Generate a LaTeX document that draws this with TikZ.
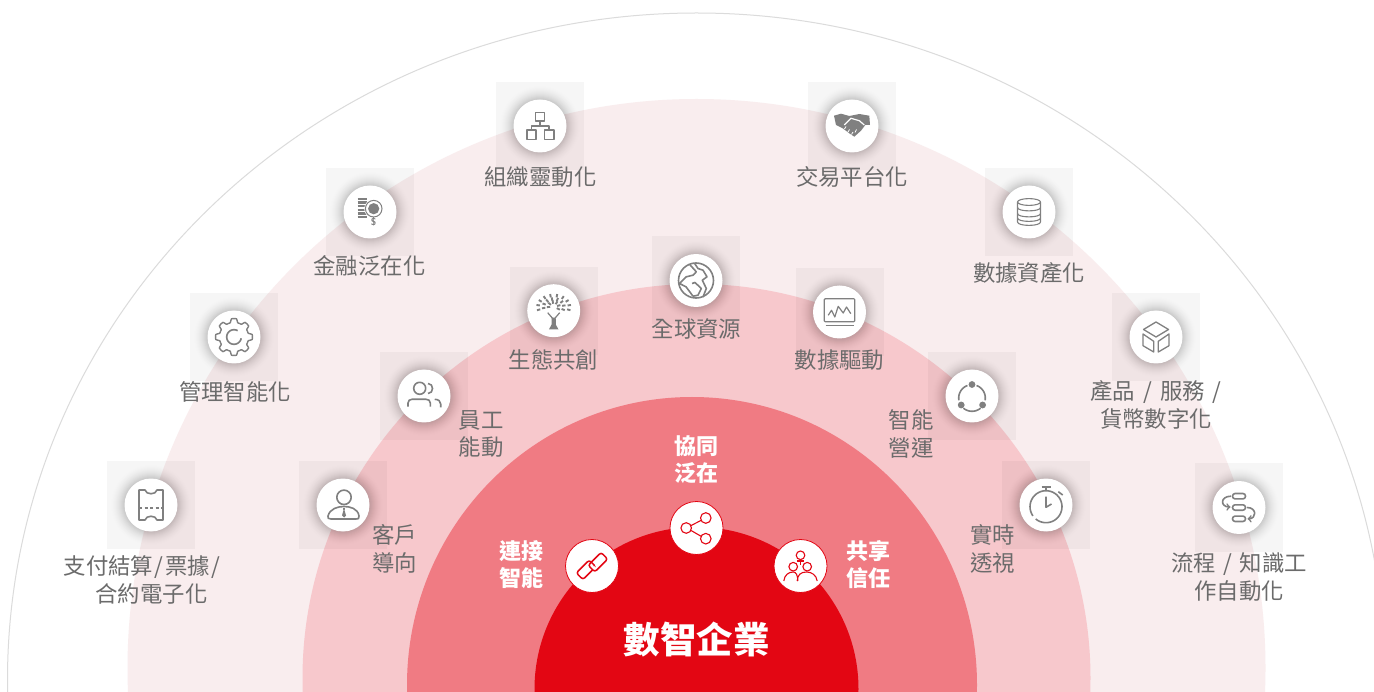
\documentclass[tikz,border=0pt]{standalone}
\usepackage{fontspec}
\newfontfamily\cjk{Noto Sans CJK TC}
\definecolor{ringa}{HTML}{F9EDEE}
\definecolor{ringb}{HTML}{F7C8CC}
\definecolor{ringc}{HTML}{F07B83}
\definecolor{ringd}{HTML}{E30613}
\definecolor{icongray}{HTML}{808080}
\definecolor{textgray}{HTML}{6B6B6B}
\tikzset{
  disc/.style={circle,fill=white,minimum size=53pt,inner sep=0pt},
  reddisc/.style={disc,draw=ringd,line width=.8pt},
  lbl/.style={text=textgray,align=center,inner sep=0pt,yshift=-.6pt,font=\cjk\fontsize{22.4}{27.5}\selectfont},
  wlbl/.style={text=white,align=center,inner sep=0pt,font=\cjk\bfseries\fontsize{22}{27.5}\selectfont},
  ic/.style={draw=icongray,line width=1.6pt,line join=round},
  icf/.style={fill=icongray},
  ricon/.style={draw=ringd,line width=1.1pt},
}
\begin{document}
\begin{tikzpicture}[x=1pt,y=-1pt]
        \useasboundingbox (0,0) rectangle (1374,692);
        \clip (0,0) rectangle (1374,692);
        \fill[white] (0,0) rectangle (1374,692);
        \draw[black!14,line width=1pt] (696.5,680) ellipse [x radius=689,y radius=667];
        \fill[ringa] (696.5,668) circle (569);
        \fill[ringb] (696.5,678) circle (394);
        \fill[ringc] (692,685) ellipse [x radius=285,y radius=288];
        \fill[ringd] (696.5,689) circle (162);
        \foreach \name/\x/\y in {org/540/126,deal/852/126,coin/370/212,db/1029/212,gear/234/337,box/1156/337,
            globe/696/280.5,tree/553.7/310.7,chart/839.5/312,staff/424/396,cycle/972/396,
            client/343/505,watch/1046/505,flow/1239/507.5,ticket/151/505} {
          \fill[black,opacity=.035] (\x-44,\y-44) rectangle (\x+44,\y+44);
          \foreach \r in {27,28,...,41} {
            \pgfmathsetmacro\o{.0015*(42-\r)}
            \fill[black,opacity=\o] (\x,\y) circle (\r);
          }
          \node[disc] (\name) at (\x,\y) {};
        }
        \node[reddisc] (link) at (592,566) {};
        \node[reddisc] (share) at (696.5,528) {};
        \node[reddisc] (trust) at (800.5,566) {};
        \node[lbl] (lblorg) at (540.5,176) {組織靈動化};
        \node[lbl] (lbldeal) at (852,176) {交易平台化};
        \node[lbl] (lblcoin) at (369.5,265) {金融泛在化};
        \node[lbl] (lbldb) at (1029,272) {數據資產化};
        \node[lbl] (lblgear) at (235,391) {管理智能化};
        \node[lbl] (lblglobe) at (696.5,328) {全球資源};
        \node[lbl] (lbltree) at (553.5,359) {生態共創};
        \node[lbl] (lblchart) at (839.5,359) {數據驅動};
        \node[lbl] (lblstaff) at (481,433.5) {員工\\能動};
        \node[lbl] (lblcycle) at (911,433.5) {智能\\營運};
        \node[lbl] (lblclient) at (394.5,548.5) {客戶\\導向};
        \node[lbl] (lblwatch) at (992.5,548.5) {實時\\透視};
        \node[lbl] (lblbox) at (1156,404.5) {產品\hspace{8pt}/\hspace{8pt}服務\hspace{8pt}/\\貨幣數字化};
        \node[lbl] (lblflow) at (1239,576.5) {流程\hspace{7.5pt}/\hspace{7.5pt}知識工\\作自動化};
        \node[lbl] (lblticket) at (142,579.5) {支付結算\hspace{1.5pt}/\hspace{1.5pt}票據\hspace{1.5pt}/\\\hspace*{19pt}合約電子化};
        \node[wlbl] (lbllink) at (521.5,564.5) {連接\\智能};
        \node[wlbl] (lblshare) at (696.5,459.5) {協同\\泛在};
        \node[wlbl] (lbltrust) at (868,564.5) {共享\\信任};
        \node[text=white,inner sep=0pt,font=\cjk\bfseries\fontsize{36.5}{40}\selectfont] (core) at (696.5,640) {數智企業};
        \begin{scope}[shift={(org.center)}]
          \draw[ic] (-4.5,-13.3) rectangle (4.5,-4.7);
          \draw[ic] (-13.3,4.3) rectangle (-4,13.7);
          \draw[ic] (4.3,4.3) rectangle (13.7,13.7);
          \draw[ic] (0,-4.7) -- (0,0);
          \draw[ic] (-8.7,4.3) -- (-8.7,0) -- (9,0) -- (9,4.3);
        \end{scope}
        \begin{scope}[shift={(deal.center)}]
          \fill[icf] (-18,-10.3) -- (-11,-12.3) -- (-2.7,-10) -- (2.3,-11) -- (7.3,-12) -- (17.3,-10.3) -- (18,-1) -- (13.3,-1)
            -- (9,4.7) -- (2.3,10.7) -- (-2.7,7.3) -- (-9.3,2.3) -- (-16,-1) -- cycle;
          \draw[white,line width=1.2pt] (-7.7,-1) -- (-1,-7.7) -- (7.3,-5.3) -- (12.3,-1);
          \draw[white,line width=.8pt] (-6,0.5) -- (-7.5,3);
          \draw[white,line width=.8pt] (-2.5,3.5) -- (-4,6);
          \draw[white,line width=.8pt] (1,6) -- (-.5,8.5);
          \draw[white,line width=.8pt] (4.5,3.5) -- (3,6.5);
        \end{scope}
        \begin{scope}[shift={(coin.center)}]
          \foreach \y in {-13,-9.4,-5.8,-2.2,1.4,5} \draw[icongray,line width=2.4pt] (-12.3,\y) -- (-3,\y);
          \fill[white] (3.7,-3.3) circle (9.5);
          \draw[icongray,line width=1pt] (3.7,-3.3) circle (8.3);
          \fill[icf] (3.7,-3.3) circle (5.6);
          \draw[icongray,line width=1pt] (3.7,5) -- (3.7,6.5);
          \node[text=icongray,inner sep=0pt,font=\sffamily\bfseries\fontsize{10}{10}\selectfont] (dollar) at (3.7,10.3) {\$};
        \end{scope}
        \begin{scope}[shift={(db.center)}]
          \draw[ic,line width=1.1pt] (0,-10) ellipse [x radius=11.5,y radius=3.4];
          \draw[ic,line width=1.1pt] (-11.5,-10) -- (-11.5,10) .. controls (-11.5,14.5) and (11.5,14.5) .. (11.5,10) -- (11.5,-10);
          \draw[ic,line width=1.1pt] (-11.5,-4.5) .. controls (-11.5,0) and (11.5,0) .. (11.5,-4.5);
          \draw[ic,line width=1.1pt] (-11.5,1.5) .. controls (-11.5,6) and (11.5,6) .. (11.5,1.5);
          \draw[ic,line width=1.1pt] (-11.5,6) .. controls (-11.5,10.5) and (11.5,10.5) .. (11.5,6);
        \end{scope}
        \begin{scope}[shift={(gear.center)}]
          \draw[ic,line width=1.4pt] plot[smooth cycle,domain=0:358.5,samples=240] (\x:{16.5+1.9*max(-1,min(1,2.2*cos(8*\x)))});
          \draw[ic] plot[smooth,domain=10:300,samples=30] (\x:7.3);
        \end{scope}
        \begin{scope}[shift={(box.center)}]
          \draw[ic,line width=1.3pt] (0,-15) -- (12.5,-7.5) -- (0,0) -- (-12.5,-7.5) -- cycle;
          \draw[ic,line width=1.3pt] (-13,-3) -- (-2.3,4.3) -- (-2.3,15) -- (-13,8.7) -- cycle;
          \draw[ic,line width=1.3pt] (13,-3) -- (2.3,4.3) -- (2.3,15) -- (13,8.7) -- cycle;
        \end{scope}
        \begin{scope}[shift={(globe.center)}]
          \draw[ic] (0,0) circle (17.5);
          \draw[ic] (-6.3,-16) -- (0.3,-8.7) -- (-3,-5.3) -- (-9.7,-3.7) -- (-16.5,3) -- (-10,6.3) -- (-3,15.7);
          \draw[ic] (-3,15.7) -- (2,14.7) -- (5.3,8) -- (-1,2) -- (-4,3);
          \draw[ic] (-1.3,-17) -- (2,-12) -- (7,-10.3) -- (11,-3.7) -- (6.3,-.3) -- (10.3,8) -- (7,16.5);
        \end{scope}
        \begin{scope}[shift={(tree.center)}]
          \fill[icf] (-4.8,18.8) -- (4.8,18.8) -- (2.2,14) -- (2,7) -- (-2,7) -- (-2.2,14) -- cycle;
          \draw[icongray,line width=1.2pt] (0,9) -- (-6,2);
          \draw[icongray,line width=1.2pt] (0,9) -- (6,2);
          \foreach \rx/\ry/\s/\n in {3.5/3/176/5,8.5/6/170/7,14/9.5/164/9} {
            \foreach \k in {0,...,\n} {
              \pgfmathsetmacro\a{\s+\k*(212/\n)}
              \draw[icongray,line width=1.9pt,shift={(0,-4)}] ({\rx*cos(\a)},{\ry*sin(\a)}) -- ({(\rx+3.4)*cos(\a)},{(\ry+3.4)*sin(\a)});
            }
          }
        \end{scope}
        \begin{scope}[shift={(chart.center)}]
          \draw[ic,line width=1.2pt,rounded corners=1pt] (-15.3,-13.3) rectangle (15.3,9.7);
          \draw[ic,line width=1.2pt] (-14,13.5) -- (14,13.5);
          \draw[ic,line width=1.2pt] (-11.3,3.3) -- (-8,-1.7) -- (-4.7,5) -- (-1.3,-5.7) -- (3.7,1) -- (7,-5) -- (11.3,1.7);
        \end{scope}
        \begin{scope}[shift={(staff.center)}]
          \draw[ic] (-4.3,-7.7) circle (6);
          \draw[ic] (4,-12.5) .. controls (10,-12.5) and (10,-2.5) .. (4,-2.5);
          \draw[ic] (-16,10.7) -- (-16,7) .. controls (-16,4.5) and (-14,3.3) .. (-12,3.3) -- (2,3.3) .. controls (4.5,3.3) and (6.3,4.5) .. (6.3,7) -- (6.3,10.7);
          \draw[ic] (10.7,3.3) .. controls (14.5,3.5) and (16.7,5) .. (16.7,8) -- (16.7,11.3);
        \end{scope}
        \begin{scope}[shift={(cycle.center)}]
          \draw[ic] plot[smooth,domain=-70:10,samples=12] ({13.3*cos(\x)},{2+13.3*sin(\x)});
          \draw[ic] plot[smooth,domain=50:130,samples=12] ({13.3*cos(\x)},{2+13.3*sin(\x)});
          \draw[ic] plot[smooth,domain=170:250,samples=12] ({13.3*cos(\x)},{2+13.3*sin(\x)});
          \fill[icf] (0,-11.5) circle (3.4);
          \fill[icf] (-10.8,9) circle (3.4);
          \fill[icf] (10.6,9) circle (3.4);
        \end{scope}
        \begin{scope}[shift={(client.center)}]
          \draw[ic] (1,-7.7) circle (7.2);
          \draw[ic] (-15,11) .. controls (-13,3.5) and (-5,1.5) .. (1,1.5) .. controls (7,1.5) and (15,3.5) .. (16,11)
            .. controls (16.5,14) and (15,14) .. (13,14) -- (-12,14) .. controls (-15,14) and (-15.5,13) .. cycle;
          \fill[icf] (0,3) -- (2,3) -- (1.6,5.5) -- (3,10.5) -- (1,12.5) -- (-1,10.5) -- (.4,5.5) -- cycle;
        \end{scope}
        \begin{scope}[shift={(watch.center)}]
          \draw[ic] plot[smooth,domain=145:490,samples=40] ({16*cos(\x)},{1.7+16*sin(\x)});
          \draw[ic] (-4.5,-18) -- (4.5,-18);
          \draw[ic] (0,-18) -- (0,-15);
          \draw[ic] (12.3,-13.3) -- (16.7,-10);
          \draw[ic] (0,-8.3) -- (0,2.3) -- (5.5,-1);
        \end{scope}
        \begin{scope}[shift={(flow.center)}]
          \draw[ic,rounded corners=2.6pt] (-6.5,-14) rectangle (6.5,-8.6);
          \draw[ic,rounded corners=2.6pt] (-6.5,-2.7) rectangle (6.5,2.7);
          \draw[ic,rounded corners=2.6pt] (-6.5,8.6) rectangle (6.5,14);
          \draw[ic,->] (-8,-11.3) .. controls (-19,-11.3) and (-19,-.5) .. (-8.5,-.5);
          \draw[ic,->] (8,0) .. controls (18,0) and (18,11.3) .. (8.5,11.3);
        \end{scope}
        \begin{scope}[shift={(ticket.center)}]
          \draw[ic] (-12,-15) -- (-6,-15) .. controls (-5,-10) and (5,-10) .. (6,-15) -- (12,-15) -- (12,15) -- (6,15)
            .. controls (5,10) and (-5,10) .. (-6,15) -- (-12,15) -- cycle;
          \draw[ic,dash pattern=on 3pt off 2.5pt] (-12,2.7) -- (12,2.7);
        \end{scope}
        \begin{scope}[shift={(link.center)},rotate=45]
          \draw[ricon,rounded corners=2.5pt,line width=1.5pt] (-16,-6.2) rectangle (2.2,3.2);
          \draw[white,line width=3.5pt] (-2.2,3.2) -- (1.5,3.2);
          \draw[ricon,rounded corners=2.5pt,line width=1.5pt] (-2.2,-3.2) rectangle (16,6.2);
        \end{scope}
        \begin{scope}[shift={(share.center)}]
          \draw[ricon] (-10.3,0) circle (5.3);
          \draw[ricon] (9.3,-10) circle (5.3);
          \draw[ricon] (9.3,10.7) circle (5.3);
          \draw[ricon] (-5.6,-2.4) -- (4.6,-7.6);
          \draw[ricon] (-5.6,2.4) -- (4.6,8.3);
        \end{scope}
        \begin{scope}[shift={(trust.center)}]
          \draw[ricon] (0,-10.7) circle (4.3);
          \draw[ricon] (-7.3,.7) circle (4.3);
          \draw[ricon] (6.7,.7) circle (4.3);
          \draw[ricon] (-3.5,-5) -- (3.5,-5);
          \draw[ricon] (0,-5) -- (0,-1.5);
          \draw[ricon] (-16.7,15) .. controls (-16,9) and (-12,6) .. (-7.3,6) .. controls (-4.5,6) and (-2.7,9) .. (-2.7,15);
          \draw[ricon] (-3.3,15) .. controls (-3,9) and (0,6) .. (6,6) .. controls (11,6) and (16,9) .. (16.7,15);
        \end{scope}
\end{tikzpicture}
\end{document}
